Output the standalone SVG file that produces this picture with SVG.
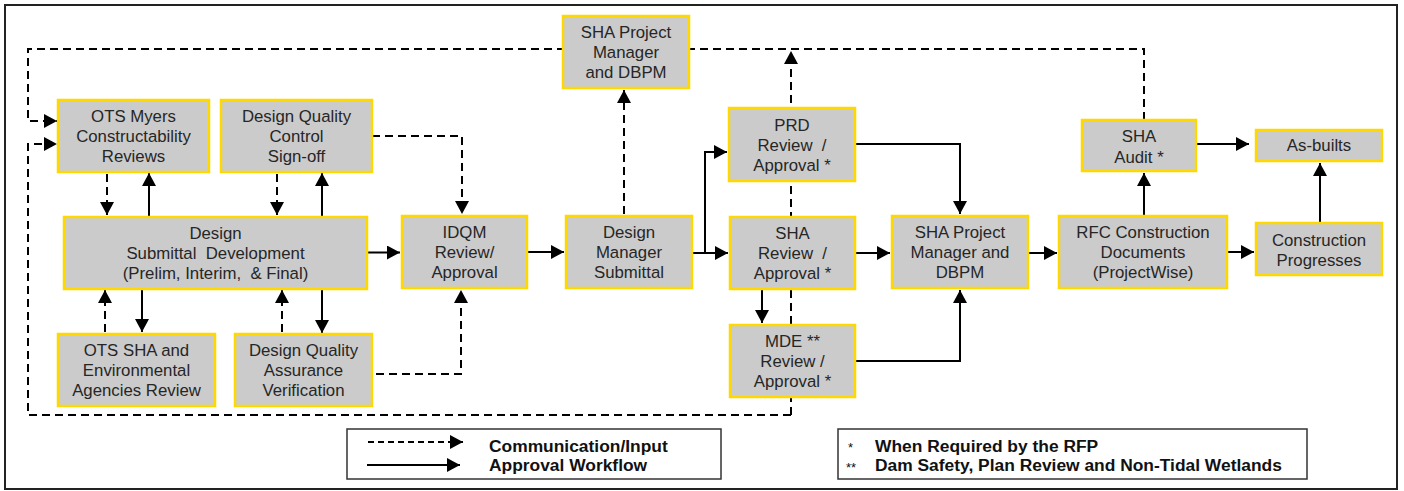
<svg xmlns="http://www.w3.org/2000/svg" width="1404" height="491" viewBox="0 0 1404 491">
  <style>
    .node rect { fill: #cbcbcb; stroke: #ffd800; stroke-width: 2.5; }
    .node text { font-family: "Liberation Sans", Arial, sans-serif; font-size: 16.8px; fill: #262626; text-anchor: middle; }
    .solid { fill: none; stroke: #000; stroke-width: 2; marker-end: url(#head); }
    .dash { fill: none; stroke: #000; stroke-width: 2; stroke-dasharray: 8 5; }
    .dash.arrow { marker-end: url(#head); }
    .legend rect { fill: #fff; stroke: #333; stroke-width: 1.5; }
    .legend text { font-family: "Liberation Sans", Arial, sans-serif; font-size: 17.4px; font-weight: bold; fill: #111; }
    .legend text.star { font-size: 13px; font-weight: normal; }
  </style>
  <defs>
    <marker id="head" markerUnits="userSpaceOnUse" markerWidth="14" markerHeight="14" refX="13" refY="7" orient="auto">
      <path d="M0,0 L13,7 L0,14 z" fill="#000"/>
    </marker>
  </defs>

  <rect x="0" y="0" width="1404" height="491" fill="#fff"/>
  <rect x="5" y="5" width="1392" height="484" fill="none" stroke="#222" stroke-width="2"/>

  <g id="connectors">
    <!-- communication loops back to the constructability reviews -->
    <path class="dash arrow" d="M1144,120 V49 H28 V121 H57"/>
    <path class="dash arrow" d="M791,415 H28 V144 H57"/>
    <path class="dash arrow" d="M791,415 V51"/>
    <!-- quality control / assurance to IDQM -->
    <path class="dash arrow" d="M372,136 H462 V214"/>
    <path class="dash arrow" d="M376,374 H461 V290"/>
    <!-- reviews around the design submittal -->
    <path class="dash arrow" d="M107,174 V215"/>
    <path class="solid" d="M149,217 V173"/>
    <path class="dash arrow" d="M277,174 V215"/>
    <path class="solid" d="M322,217 V173"/>
    <path class="dash arrow" d="M105,332 V290"/>
    <path class="solid" d="M142,289 V332"/>
    <path class="dash arrow" d="M282,332 V290"/>
    <path class="solid" d="M322,289 V333"/>
    <!-- main approval workflow -->
    <path class="solid" d="M367,252.5 H400"/>
    <path class="solid" d="M527,252 H564"/>
    <path class="dash arrow" d="M624,214 V90"/>
    <path class="solid" d="M692,253 H728"/>
    <path class="solid" d="M705,253 V152 H727"/>
    <path class="solid" d="M855,144 H960 V214"/>
    <path class="solid" d="M855,253 H890"/>
    <path class="solid" d="M762,289 V323"/>
    <path class="solid" d="M855,361 H960 V290"/>
    <path class="solid" d="M1028,253 H1057"/>
    <path class="solid" d="M1144,216 V173"/>
    <path class="solid" d="M1227,252 H1254"/>
    <path class="solid" d="M1320,223 V163"/>
    <path class="solid" d="M1196,144 H1249"/>
  </g>

  <g id="ots-myers" class="node">
    <rect x="58" y="100" width="151" height="72"/>
    <text x="133.5" y="122">OTS Myers</text>
    <text x="133.5" y="142">Constructability</text>
    <text x="133.5" y="162">Reviews</text>
  </g>
  <g id="dq-control" class="node">
    <rect x="221" y="100" width="151" height="72"/>
    <text x="296.5" y="122">Design Quality</text>
    <text x="296.5" y="142">Control</text>
    <text x="296.5" y="162">Sign-off</text>
  </g>
  <g id="design-submittal" class="node">
    <rect x="64" y="217" width="303" height="72"/>
    <text x="215.5" y="239">Design</text>
    <text x="215.5" y="259" xml:space="preserve">Submittal  Development</text>
    <text x="215.5" y="279" xml:space="preserve">(Prelim, Interim,  &amp; Final)</text>
  </g>
  <g id="ots-sha-env" class="node">
    <rect x="58" y="334" width="157" height="72"/>
    <text x="136.5" y="356">OTS SHA and</text>
    <text x="136.5" y="376">Environmental</text>
    <text x="136.5" y="396">Agencies Review</text>
  </g>
  <g id="dq-assurance" class="node">
    <rect x="235" y="334" width="137" height="72"/>
    <text x="303.5" y="356">Design Quality</text>
    <text x="303.5" y="376">Assurance</text>
    <text x="303.5" y="396">Verification</text>
  </g>
  <g id="idqm" class="node">
    <rect x="402" y="216" width="125" height="72"/>
    <text x="464.5" y="238">IDQM</text>
    <text x="464.5" y="258">Review/</text>
    <text x="464.5" y="278">Approval</text>
  </g>
  <g id="dm-submittal" class="node">
    <rect x="566" y="216" width="126" height="72"/>
    <text x="629" y="238">Design</text>
    <text x="629" y="258">Manager</text>
    <text x="629" y="278">Submittal</text>
  </g>
  <g id="sha-pm-top" class="node">
    <rect x="563" y="16" width="126" height="72"/>
    <text x="626" y="38">SHA Project</text>
    <text x="626" y="58">Manager</text>
    <text x="626" y="78">and DBPM</text>
  </g>
  <g id="prd" class="node">
    <rect x="729" y="108" width="126" height="73"/>
    <text x="792" y="130.5">PRD</text>
    <text x="792" y="150.5" xml:space="preserve">Review  /</text>
    <text x="792" y="170.5">Approval *</text>
  </g>
  <g id="sha-review" class="node">
    <rect x="730" y="217" width="125" height="72"/>
    <text x="792.5" y="239">SHA</text>
    <text x="792.5" y="259" xml:space="preserve">Review  /</text>
    <text x="792.5" y="279">Approval *</text>
  </g>
  <g id="mde" class="node">
    <rect x="730" y="325" width="125" height="72"/>
    <text x="792.5" y="347">MDE **</text>
    <text x="792.5" y="367">Review /</text>
    <text x="792.5" y="387">Approval *</text>
  </g>
  <g id="sha-pm" class="node">
    <rect x="892" y="216" width="136" height="72"/>
    <text x="960" y="238">SHA Project</text>
    <text x="960" y="258">Manager and</text>
    <text x="960" y="278">DBPM</text>
  </g>
  <g id="rfc" class="node">
    <rect x="1059" y="216" width="168" height="72"/>
    <text x="1143" y="238">RFC Construction</text>
    <text x="1143" y="258">Documents</text>
    <text x="1143" y="278">(ProjectWise)</text>
  </g>
  <g id="construction" class="node">
    <rect x="1256" y="223" width="126" height="52"/>
    <text x="1319" y="245.5">Construction</text>
    <text x="1319" y="265.5">Progresses</text>
  </g>
  <g id="sha-audit" class="node">
    <rect x="1082" y="120" width="114" height="51"/>
    <text x="1139" y="142">SHA</text>
    <text x="1139" y="162.5">Audit *</text>
  </g>
  <g id="as-builts" class="node">
    <rect x="1256" y="130" width="126" height="31"/>
    <text x="1319" y="151">As-builts</text>
  </g>

  <g id="legend-lines" class="legend">
    <rect x="347" y="429" width="374" height="50"/>
    <path class="dash arrow" d="M368,442 H463" style="stroke-dasharray: 6 4"/>
    <path class="solid" d="M367,465 H460"/>
    <text x="489" y="452">Communication/Input</text>
    <text x="489" y="471">Approval Workflow</text>
  </g>
  <g id="legend-notes" class="legend">
    <rect x="838" y="429" width="469" height="50"/>
    <text class="star" x="848" y="452">*</text>
    <text class="star" x="846" y="472">**</text>
    <text x="875" y="452">When Required by the RFP</text>
    <text x="875" y="471">Dam Safety, Plan Review and Non-Tidal Wetlands</text>
  </g>
</svg>
